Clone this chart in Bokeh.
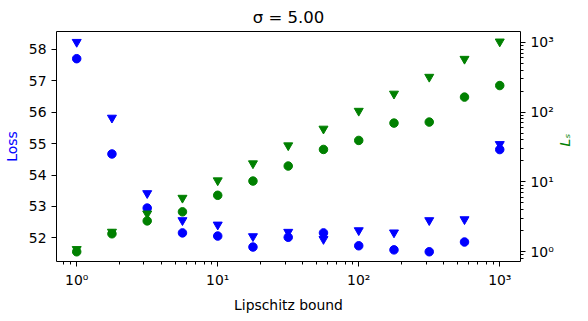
import math
from bokeh.plotting import figure
from bokeh.models import Range1d, LogScale, LogAxis, FixedTicker
from bokeh.embed import file_html
from bokeh.resources import INLINE

# Data
lipschitz = [1.0, 1.778, 3.162, 5.623, 10.0, 17.78, 31.62, 56.23, 100.0, 177.8, 316.2, 562.3, 1000.0]
loss_circle = [57.70, 54.67, 52.95, 52.16, 52.06, 51.71, 52.02, 52.16, 51.75, 51.62, 51.56, 51.87, 54.81]
loss_tri = [58.23, 55.82, 53.42, 52.56, 52.42, 52.05, 52.19, 51.96, 52.24, 52.17, 52.56, 52.59, 54.98]
ls_circle = [1.0, 1.81, 2.77, 3.73, 6.44, 10.3, 16.9, 29.2, 39.3, 69.6, 72.0, 164.0, 240.0]
ls_tri = [1.09, 1.93, 3.52, 5.91, 10.5, 18.4, 33.3, 57.7, 104.0, 183.0, 319.0, 577.0, 1021.0]

x_major = [1, 10, 100, 1000]
x_labels = {1: "10⁰", 10: "10¹", 100: "10²", 1000: "10³"}
loss_ticks = [52, 53, 54, 55, 56, 57, 58]

FONT = "DejaVu Sans"

def log_minors(lo_exp, hi_exp):
    out = []
    for e in range(lo_exp, hi_exp + 1):
        for m in range(2, 10):
            out.append(m * 10 ** e)
    return out

p = figure(frame_width=464, frame_height=230, x_axis_type="log",
           x_range=Range1d(0.719, 1403), y_range=Range1d(51.25, 58.565),
           output_backend="svg", toolbar_location=None,
           min_border_left=52, min_border_right=56, min_border_top=25, min_border_bottom=50)

p.title.text = "σ = 5.00"
p.title.align = "center"
p.title.text_font = FONT
p.title.text_font_style = "normal"
p.title.text_font_size = "16.5px"
p.title.text_color = "black"

p.extra_y_ranges = {"ls": Range1d(0.726, 1426)}
p.extra_y_scales = {"ls": LogScale()}

p.xgrid.visible = False
p.ygrid.visible = False
p.outline_line_color = "black"
p.outline_line_width = 1
p.outline_line_alpha = 1.0

# x axis
xa = p.xaxis[0]
xa.ticker = FixedTicker(ticks=x_major, minor_ticks=log_minors(-1, 3))
xa.major_label_overrides = x_labels
xa.axis_label = "Lipschitz bound"
xa.axis_label_text_color = "black"

# left axis
ya = p.yaxis[0]
ya.ticker = FixedTicker(ticks=loss_ticks)
ya.axis_label = "Loss"
ya.axis_label_text_color = "blue"

# right axis
ra = LogAxis(y_range_name="ls")
ra.ticker = FixedTicker(ticks=x_major, minor_ticks=log_minors(-1, 3))
ra.major_label_overrides = x_labels
ra.axis_label = "Lₛ"
ra.axis_label_text_color = "green"
ra.axis_label_orientation = math.pi / 2
p.add_layout(ra, "right")

for ax in [xa, ya, ra]:
    ax.major_label_text_font = FONT
    ax.major_label_text_font_size = "13.9px"
    ax.major_label_text_color = "black"
    ax.axis_label_text_font = FONT
    ax.axis_label_text_font_size = "13.9px"
    ax.axis_label_text_font_style = "normal"
    ax.axis_line_color = None
    ax.major_tick_out = 5
    ax.major_tick_in = 0
    ax.minor_tick_out = 3
    ax.minor_tick_in = 0
    ax.major_tick_line_color = "black"
    ax.minor_tick_line_color = "black"
ya.minor_tick_line_color = None
ra.axis_label_text_font_style = "italic"
xa.axis_label_standoff = 6
ya.axis_label_standoff = 6
ra.axis_label_standoff = 8

p.scatter(lipschitz, loss_circle, marker="circle", size=8.5, color="blue")
p.scatter(lipschitz, loss_tri, marker="inverted_triangle", size=9, color="blue")
p.scatter(lipschitz, ls_circle, marker="circle", size=8.5, color="green", y_range_name="ls")
p.scatter(lipschitz, ls_tri, marker="inverted_triangle", size=9, color="green", y_range_name="ls")

open("out.html", "w").write(file_html(p, INLINE))
